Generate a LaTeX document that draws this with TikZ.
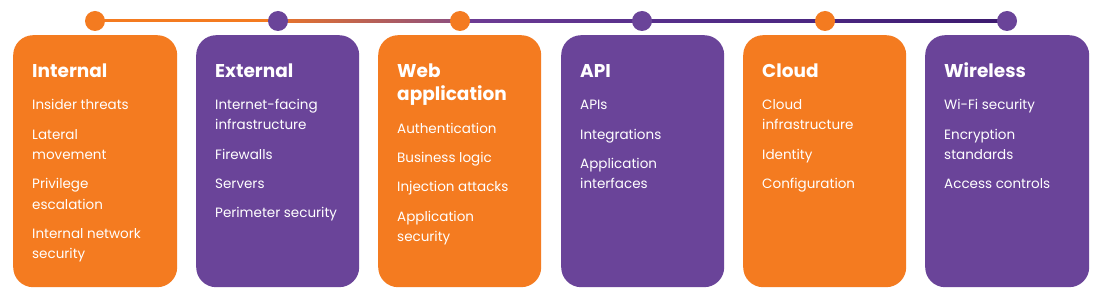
\documentclass[tikz,border=0pt]{standalone}
\usepackage{fontspec}
\setmainfont{Poppins}
\definecolor{orng}{HTML}{F47B20}
\definecolor{purp}{HTML}{6A4499}
\definecolor{lineA}{HTML}{E8742A}
\definecolor{lineB}{HTML}{8A4E82}
\definecolor{lineC}{HTML}{6E3C94}
\definecolor{lineD}{HTML}{58308C}
\definecolor{lineE}{HTML}{4A2680}
\definecolor{lineF}{HTML}{3C1A6E}
\begin{document}
\begin{tikzpicture}[x=1pt,y=-1pt,
  card/.style={rounded corners=20pt, minimum width=164pt, minimum height=252pt, anchor=north west, inner sep=0pt, draw=none},
  ttl/.style={anchor=base west, inner sep=0pt, text=white, font=\fontsize{18.5}{23}\selectfont\bfseries},
  itm/.style={anchor=base west, inner sep=0pt, text=white, font=\fontsize{13.5}{20}\selectfont},
  dotnode/.style={circle, minimum size=20pt, inner sep=0pt, draw=none}]
\useasboundingbox[fill=white] (0,0) rectangle (1105,307);

% timeline dots (coordinates)
\coordinate (p1) at (95,21);
\coordinate (p2) at (278,21);
\coordinate (p3) at (460,21);
\coordinate (p4) at (642,21);
\coordinate (p5) at (825,21);
\coordinate (p6) at (1007,21);

% timeline segments
\fill[orng] ([yshift=-1.5pt]p1) rectangle ([yshift=1.5pt]p2);
\shade[left color=lineA, right color=lineB] ([yshift=-1.5pt]p2) rectangle ([yshift=1.5pt]p3);
\shade[left color=lineC, right color=lineD] ([yshift=-1.5pt]p3) rectangle ([yshift=1.5pt]p4);
\shade[left color=lineD, right color=lineE] ([yshift=-1.5pt]p4) rectangle ([yshift=1.5pt]p5);
\shade[left color=lineE, right color=lineF] ([yshift=-1.5pt]p5) rectangle ([yshift=1.5pt]p6);

\node[dotnode, fill=orng] (d1) at (p1) {};
\node[dotnode, fill=purp] (d2) at (p2) {};
\node[dotnode, fill=orng] (d3) at (p3) {};
\node[dotnode, fill=purp] (d4) at (p4) {};
\node[dotnode, fill=orng] (d5) at (p5) {};
\node[dotnode, fill=purp] (d6) at (p6) {};

% cards
\node[card, fill=orng] (c1) at (13,35) {};
\node[card, fill=purp, minimum width=163pt] (c2) at (196,35) {};
\node[card, fill=orng, minimum width=163pt] (c3) at (378,35) {};
\node[card, fill=purp, minimum width=163pt] (c4) at (561,35) {};
\node[card, fill=orng, minimum width=163pt] (c5) at (743,35) {};
\node[card, fill=purp] (c6) at (925,35) {};

% card 1
\node[ttl] (t1) at (32,78) {Internal};
\node[itm] (a1) at (32,110) {Insider threats};
\node[itm] (a2) at (32,139.5) {Lateral};
\node[itm] (a2b) at (32,159.5) {movement};
\node[itm] (a3) at (32,189) {Privilege};
\node[itm] (a3b) at (32,209) {escalation};
\node[itm] (a4) at (32,238) {Internal network};
\node[itm] (a4b) at (32,258) {security};

% card 2
\node[ttl] (t2) at (215,78) {External};
\node[itm] (b1) at (215,110) {Internet-facing};
\node[itm] (b1b) at (215,130) {infrastructure};
\node[itm] (b2) at (215,159.5) {Firewalls};
\node[itm] (b3) at (215,189) {Servers};
\node[itm] (b4) at (215,218) {Perimeter security};

% card 3
\node[ttl] (t3) at (397,78) {Web};
\node[ttl] (t3b) at (397,101) {application};
\node[itm] (e1) at (397,134) {Authentication};
\node[itm] (e2) at (397,163) {Business logic};
\node[itm] (e3) at (397,192) {Injection attacks};
\node[itm] (e4) at (397,221.5) {Application};
\node[itm] (e4b) at (397,241.5) {security};

% card 4
\node[ttl] (t4) at (580,78) {API};
\node[itm] (f1) at (580,110) {APIs};
\node[itm] (f2) at (580,139.5) {Integrations};
\node[itm] (f3) at (580,169) {Application};
\node[itm] (f3b) at (580,189) {interfaces};

% card 5
\node[ttl] (t5) at (762,78) {Cloud};
\node[itm] (g1) at (762,110) {Cloud};
\node[itm] (g1b) at (762,130) {infrastructure};
\node[itm] (g2) at (762,159.5) {Identity};
\node[itm] (g3) at (762,189) {Configuration};

% card 6
\node[ttl] (t6) at (944,78) {Wireless};
\node[itm] (h1) at (944,110) {Wi-Fi security};
\node[itm] (h2) at (944,139.5) {Encryption};
\node[itm] (h2b) at (944,159.5) {standards};
\node[itm] (h3) at (944,189) {Access controls};
\end{tikzpicture}
\end{document}
